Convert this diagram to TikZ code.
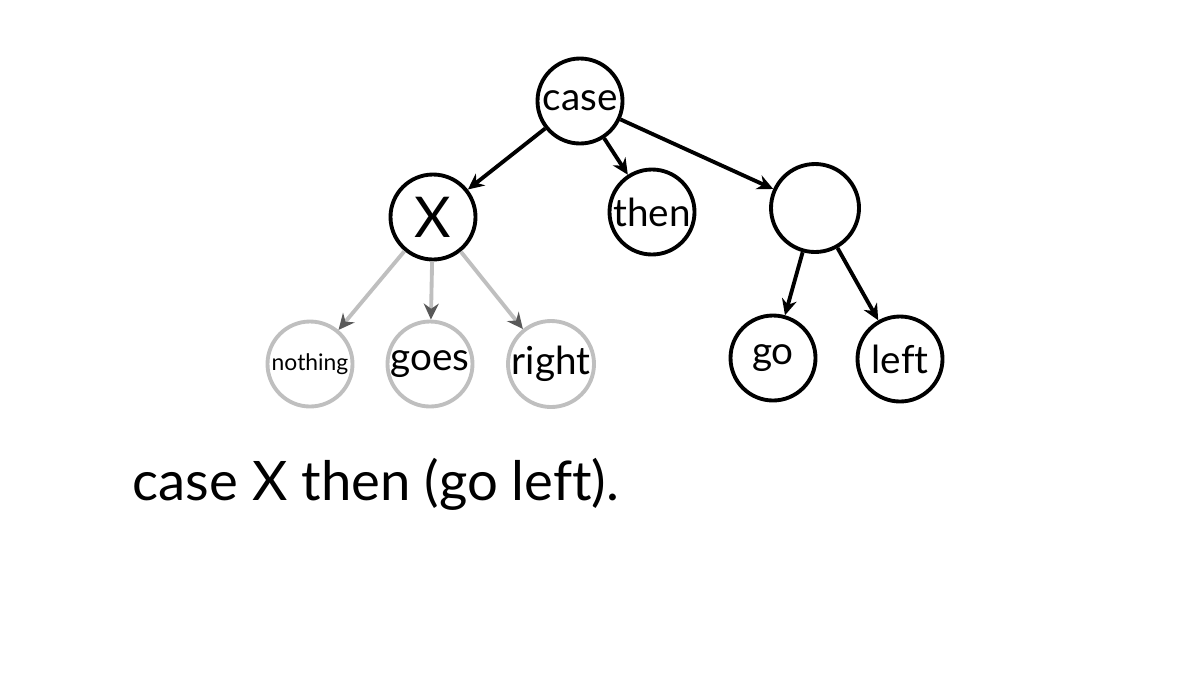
\documentclass[tikz,border=0pt]{standalone}
\usepackage{fontspec}
\setmainfont{Lato}[Ligatures=NoCommon]
\usetikzlibrary{arrows.meta}
\definecolor{cblack}{HTML}{000000}
\definecolor{clight}{HTML}{BFBFBF}
\definecolor{cdark}{HTML}{595959}
\tikzset{
  every picture/.style={line width=2.2pt},
  word/.style={circle, draw=#1, minimum size=1.7cm, inner sep=0pt, font=\fontsize{22}{24}\selectfont},
  word/.default=cblack,
  arrow/.style={-{Stealth[length=3.2mm, width=3mm]}, draw=cblack},
  faded/.style={-{Stealth[length=3.2mm, width=3mm, color=cdark]}, draw=clight},
  sentence/.style={font=\fontsize{31}{35}\selectfont, anchor=base west},
}
\begin{document}
\begin{tikzpicture}
  \useasboundingbox (0,0) rectangle (24,-13.5);
  % the tree
  \node[word] (case) at (11.6,-2.02) {case};
  \node[word, font=\fontsize{32}{36}\selectfont] (x) at (8.66,-4.34) {X};
  \node[word] (then) at (13.04,-4.24) {then};
  \node[word, minimum size=1.76cm] (rest) at (16.3,-4.16) {};
  \node[word=clight, font=\fontsize{13}{15}\selectfont] (nothing) at (6.2,-7.28) {nothing};
  \node[word=clight] (goes) at (8.6,-7.28) {goes};
  \node[word=clight] (right) at (11.02,-7.28) {right};
  \node[word] (go) at (15.46,-7.16) {go};
  \node[word] (left) at (18.0,-7.18) {left};
  \foreach \a/\b in {case/x, case/then, case/rest, rest/go, rest/left} \draw[arrow] (\a) -- (\b);
  \foreach \b in {nothing, goes, right} \draw[faded] (x) -- (\b);
  % the sentence
  \node[sentence] (line) at (2.5,-10.0) {case X then (go left).};
\end{tikzpicture}
\end{document}
